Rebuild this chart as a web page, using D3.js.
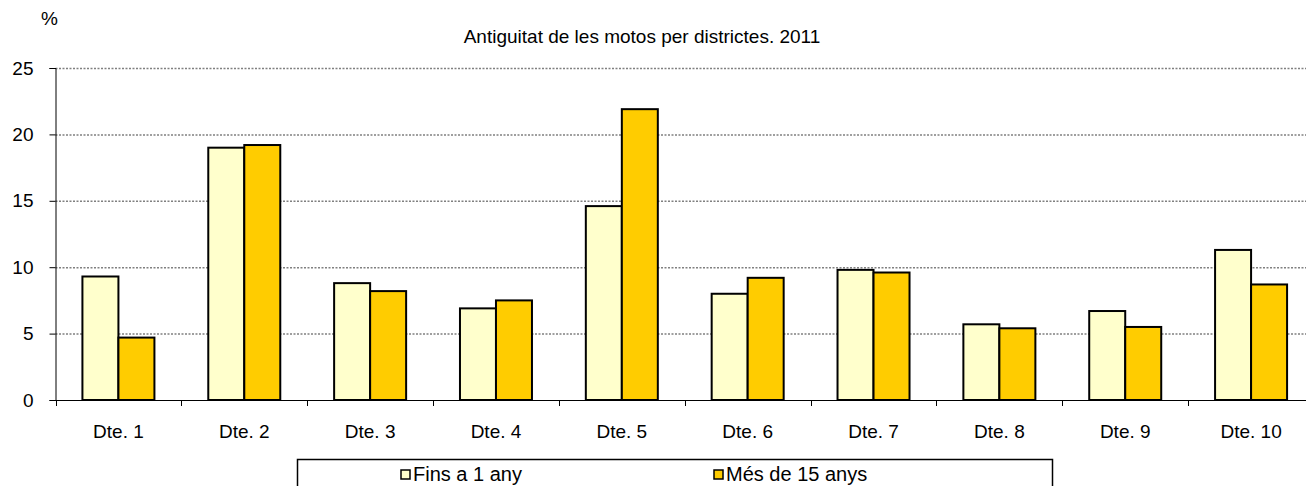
<!DOCTYPE html>
<html>
<head>
<meta charset="utf-8">
<script src="https://cdn.jsdelivr.net/npm/d3@7"></script>
<style>
  body { margin: 0; background: #fff; }
  text { font-family: "Liberation Sans", Arial, sans-serif; fill: #000; }
</style>
</head>
<body>
<script>
	// dades
	var categories = ['Dte. 1','Dte. 2','Dte. 3','Dte. 4','Dte. 5','Dte. 6','Dte. 7','Dte. 8','Dte. 9','Dte. 10']
	var seriesNames = ['Fins a 1 any', 'Més de 15 anys']
	var finsA1 = [9.3, 19.0, 8.8, 6.9, 14.6, 8.0, 9.8, 5.7, 6.7, 11.3]
	var mesDe15 = [4.7, 19.2, 8.2, 7.5, 21.9, 9.2, 9.6, 5.4, 5.5, 8.7]
	var yTicks = [0, 5, 10, 15, 20, 25]
	var colors = ['#ffffcc', '#ffcc00']

	var width = 1306, height = 486
	var plotL = 55.5, plotR = 1314, plotT = 68, plotB = 400

	var svg = d3.select('body').append('svg')
		.attr('width', width)
		.attr('height', height)

	var x = d3.scaleBand().domain(categories).range([plotL, plotR]).padding(0)
	var x1 = d3.scaleBand().domain(seriesNames).range([0, 72])
	var y = d3.scaleLinear().domain([0, 25]).range([plotB, plotT])

	// línies de la graella
	svg.selectAll('.grid')
		.data(yTicks.filter(d => d > 0))
		.enter()
		.append('line')
		.attr('x1', plotL).attr('x2', width)
		.attr('y1', d => y(d) + 0.5).attr('y2', d => y(d) + 0.5)
		.attr('stroke', '#808080')
		.attr('stroke-width', 1.5)
		.attr('stroke-dasharray', '2,1.5')

	// barres
	var data = categories.map((c, i) => ({ cat: c, vals: [finsA1[i], mesDe15[i]] }))
	var groups = svg.selectAll('.grp')
		.data(data)
		.enter()
		.append('g')
		.attr('transform', d => 'translate(' + (x(d.cat) + x.bandwidth() / 2 - 36) + ',0)')
	groups.selectAll('rect')
		.data(d => d.vals.map((v, j) => ({ name: seriesNames[j], v: v, j: j })))
		.enter()
		.append('rect')
		.attr('x', d => x1(d.name))
		.attr('y', d => y(d.v))
		.attr('width', x1.bandwidth())
		.attr('height', d => plotB - y(d.v))
		.attr('fill', d => colors[d.j])
		.attr('stroke', '#000')
		.attr('stroke-width', 2)

	// eix Y
	var yAxis = svg.append('g')
		.attr('transform', 'translate(' + plotL + ',0)')
		.call(d3.axisLeft(y).tickValues(yTicks).tickSize(6).tickPadding(16))
	yAxis.select('.domain').attr('stroke', '#000')
	yAxis.selectAll('text').style('font-size', '19px')

	// eix X
	var xAxis = svg.append('g')
		.attr('transform', 'translate(0,' + plotB + ')')
		.call(d3.axisBottom(x).tickSize(0).tickPadding(25).tickSizeOuter(0))
	xAxis.select('.domain').attr('stroke', '#000').attr('d', 'M' + plotL + ',0.5H' + width)
	xAxis.selectAll('text').style('font-size', '19px')
	svg.selectAll('.xtick')
		.data(categories)
		.enter()
		.append('line')
		.attr('x1', d => Math.round(x(d)) + 0.5).attr('x2', d => Math.round(x(d)) + 0.5)
		.attr('y1', plotB).attr('y2', plotB + 6)
		.attr('stroke', '#000')

	// títols
	svg.append('text')
		.attr('x', 642).attr('y', 43)
		.attr('text-anchor', 'middle')
		.style('font-size', '19px')
		.text('Antiguitat de les motos per districtes. 2011')
	svg.append('text')
		.attr('x', 41).attr('y', 25)
		.style('font-size', '19px')
		.text('%')

	// llegenda
	svg.append('rect')
		.attr('x', 297.5).attr('y', 459.5)
		.attr('width', 755).attr('height', 40)
		.attr('fill', '#fff')
		.attr('stroke', '#000')
		.attr('stroke-width', 1.5)
	var legX = [401, 714]
	var leg = svg.selectAll('.leg')
		.data(seriesNames)
		.enter()
		.append('g')
		.attr('transform', (d, i) => 'translate(' + legX[i] + ',470)')
	leg.append('rect')
		.attr('width', 9).attr('height', 9)
		.attr('fill', (d, i) => colors[i])
		.attr('stroke', '#000')
		.attr('stroke-width', 1.5)
	leg.append('text')
		.attr('x', 12).attr('y', 11)
		.style('font-size', '20px')
		.text(d => d)
</script>
</body>
</html>
